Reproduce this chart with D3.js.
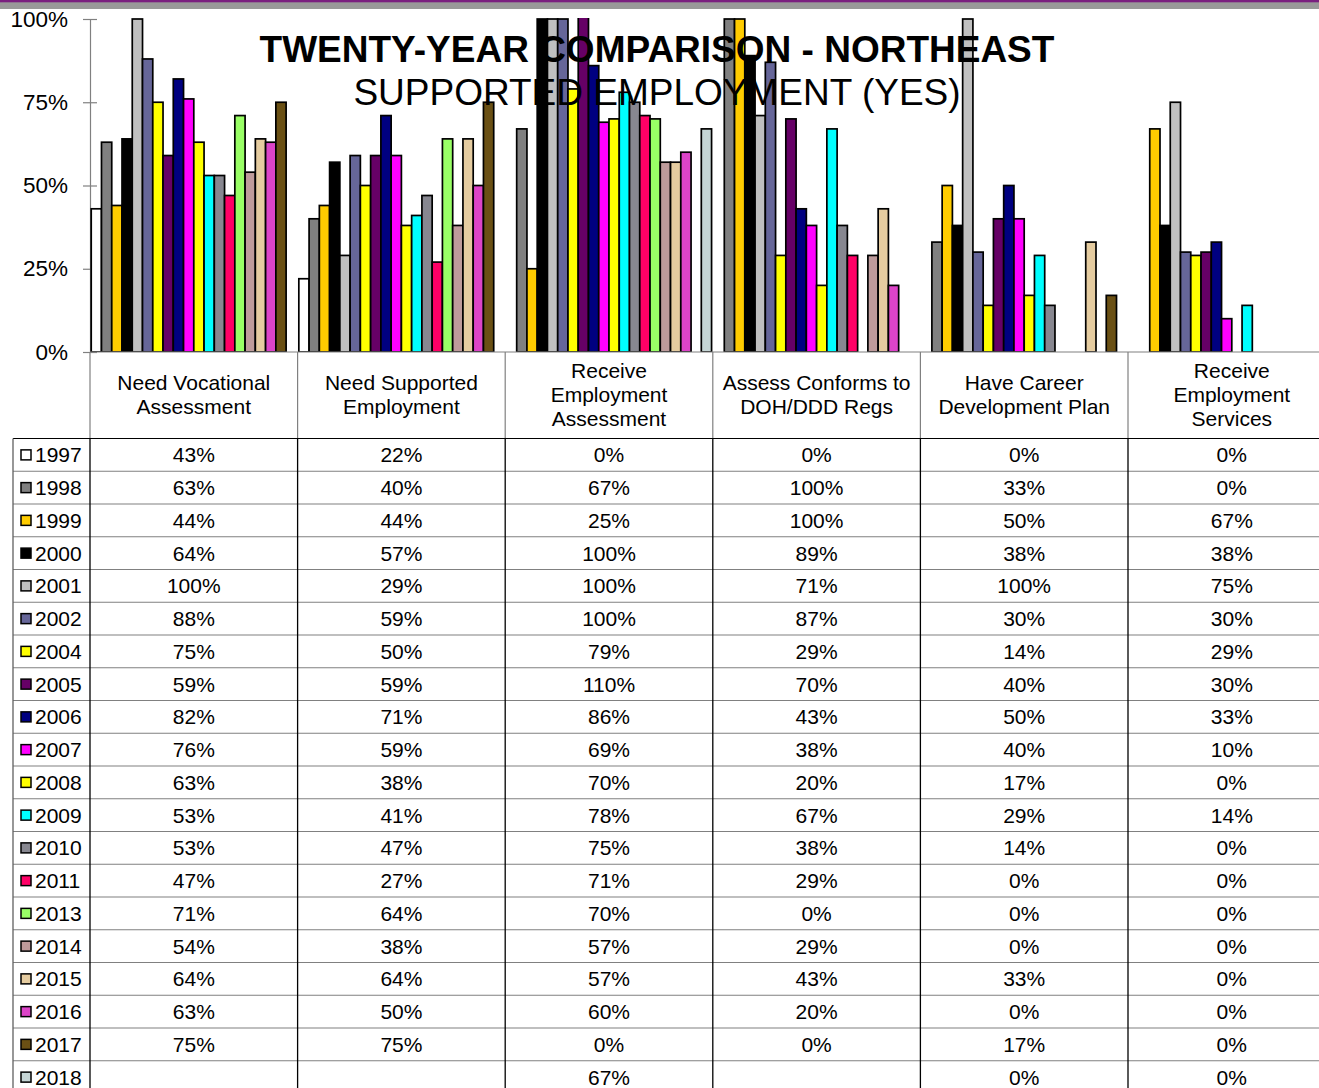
<!DOCTYPE html>
<html>
<head>
<meta charset="utf-8">
<script src="https://cdn.jsdelivr.net/npm/d3@7"></script>
<style>
  html, body { margin: 0; padding: 0; background: #fff; }
  svg { display: block; font-family: "Liberation Sans", Arial, sans-serif; }
</style>
</head>
<body>
<svg id="chart" width="1319" height="1088"></svg>
<script>
// ---------- data ----------
const titleText = "TWENTY-YEAR COMPARISON - NORTHEAST";
const subtitleText = "SUPPORTED EMPLOYMENT (YES)";
const years = ["1997","1998","1999","2000","2001","2002","2004","2005","2006","2007",
               "2008","2009","2010","2011","2013","2014","2015","2016","2017","2018"];
const categories = [
  ["Need Vocational", "Assessment"],
  ["Need Supported", "Employment"],
  ["Receive", "Employment", "Assessment"],
  ["Assess Conforms to", "DOH/DDD Regs"],
  ["Have Career", "Development Plan"],
  ["Receive", "Employment", "Services"]
];
const yTicks = [0, 25, 50, 75, 100];
const yTickLabels = ["0%", "25%", "50%", "75%", "100%"];
// values (%) per category, one per year; null = blank cell
const needVocationalAssessment = [43,63,44,64,100,88,75,59,82,76,63,53,53,47,71,54,64,63,75,null];
const needSupportedEmployment  = [22,40,44,57,29,59,50,59,71,59,38,41,47,27,64,38,64,50,75,null];
const receiveEmploymentAssess  = [0,67,25,100,100,100,79,110,86,69,70,78,75,71,70,57,57,60,0,67];
const assessConformsRegs       = [0,100,100,89,71,87,29,70,43,38,20,67,38,29,0,29,43,20,0,null];
const haveCareerPlan           = [0,33,50,38,100,30,14,40,50,40,17,29,14,0,0,0,33,0,17,0];
const receiveEmploymentServ    = [0,0,67,38,75,30,29,30,33,10,0,14,0,0,0,0,0,0,0,0];
const seriesColors = ["#FFFFFF","#808080","#FFCC00","#000000","#C0C0C0","#666699","#FFFF00",
  "#660066","#000080","#FF00FF","#FFFF00","#00FFFF","#878790","#FF0066","#99FF66",
  "#BE9B9B","#E5CCA0","#DC44C8","#6A5014","#C5D5D5"];

const valuesByCategory = [needVocationalAssessment, needSupportedEmployment, receiveEmploymentAssess,
  assessConformsRegs, haveCareerPlan, receiveEmploymentServ];
const catKeys = categories.map((c, i) => "c" + i);

// ---------- layout ----------
const svg = d3.select("#chart");
const W = 1319, H = 1088;
const plotLeft = 90, plotTop = 19, plotBottom = 352;
const catW = 207.6;
const tableTop = 438.5, rowH = 32.75, tableLeft = 13;
const font = 21;

// top banner
svg.append("rect").attr("x", 0).attr("y", 0).attr("width", W).attr("height", 9).attr("fill", "#999999");
svg.append("rect").attr("x", 0).attr("y", 0).attr("width", W).attr("height", 2.3).attr("fill", "#7a1f7f");

const x0 = d3.scaleBand().domain(catKeys).range([plotLeft, plotLeft + catW * catKeys.length]).padding(0);
const x1 = d3.scaleBand().domain(years).range([0, catW]).paddingInner(0).paddingOuter(0.12);
const y = d3.scaleLinear().domain([0, 100]).range([plotBottom, plotTop]);

// clip for bars
svg.append("defs").append("clipPath").attr("id", "plotClip")
  .append("rect").attr("x", plotLeft).attr("y", plotTop - 1).attr("width", W - plotLeft).attr("height", plotBottom - plotTop + 1);

// y axis
const yAxisG = svg.append("g").attr("transform", `translate(${plotLeft},0)`)
  .call(d3.axisLeft(y).tickValues(yTicks).tickFormat((d, i) => yTickLabels[i]).tickSize(7).tickPadding(15));
yAxisG.select(".domain").attr("stroke", "#808080").attr("stroke-width", 1.2);
yAxisG.selectAll(".tick line").attr("stroke", "#808080").attr("stroke-width", 1.2).attr("x2", -7).attr("x1", 7);
yAxisG.selectAll(".tick text").attr("font-size", 22.5).attr("fill", "#000").attr("font-family", "Liberation Sans, Arial, sans-serif");

// bars
const barG = svg.append("g").attr("clip-path", "url(#plotClip)");
catKeys.forEach((ck, ci) => {
  const vals = valuesByCategory[ci];
  barG.append("g").attr("transform", `translate(${x0(ck)},0)`)
    .selectAll("rect")
    .data(years.map((yr, yi) => ({ yr, yi, v: vals[yi] })).filter(d => d.v !== null && d.v > 0))
    .join("rect")
    .attr("x", d => x1(d.yr))
    .attr("width", x1.bandwidth())
    .attr("y", d => y(d.v))
    .attr("height", d => y(0) - y(d.v))
    .attr("fill", d => seriesColors[d.yi])
    .attr("stroke", "#000")
    .attr("stroke-width", 1.7);
});

// x axis line
svg.append("line").attr("x1", plotLeft).attr("x2", W).attr("y1", plotBottom).attr("y2", plotBottom)
  .attr("stroke", "#808080").attr("stroke-width", 1.2);

// header vertical lines (gray)
const boundaries = catKeys.map(k => x0(k)).concat([x0(catKeys[catKeys.length - 1]) + catW]);
boundaries.forEach(bx => {
  svg.append("line").attr("x1", bx).attr("x2", bx).attr("y1", plotBottom).attr("y2", tableTop)
    .attr("stroke", "#808080").attr("stroke-width", 1.2);
});

// category labels
catKeys.forEach((ck, ci) => {
  const lines = categories[ci];
  const cx = x0(ck) + catW / 2;
  const lh = 24;
  const t = svg.append("text").attr("text-anchor", "middle").attr("font-size", font).attr("fill", "#000");
  lines.forEach((ln, li) => {
    t.append("tspan").attr("x", cx).attr("y", (lines.length === 3 ? 378 : 390) + li * lh).text(ln);
  });
});

// table grid
const nRows = years.length;
for (let r = 0; r <= nRows; r++) {
  const ry = tableTop + r * rowH;
  svg.append("line").attr("x1", tableLeft).attr("x2", W).attr("y1", ry).attr("y2", ry)
    .attr("stroke", r === 0 ? "#000" : "#808080").attr("stroke-width", 1.2);
}
[tableLeft].concat(boundaries).forEach((bx, i) => {
  svg.append("line").attr("x1", bx).attr("x2", bx).attr("y1", tableTop).attr("y2", H)
    .attr("stroke", i === 0 ? "#606060" : "#000").attr("stroke-width", 1.3);
});

// legend rows + values
years.forEach((yr, r) => {
  const cy = tableTop + r * rowH + rowH / 2;
  svg.append("rect").attr("x", 21).attr("y", cy - 5).attr("width", 10).attr("height", 10)
    .attr("fill", seriesColors[r]).attr("stroke", "#000").attr("stroke-width", 1.5);
  svg.append("text").attr("x", 35).attr("y", cy + 7.5).attr("font-size", font).attr("fill", "#000").text(yr);
  catKeys.forEach((ck, ci) => {
    const v = valuesByCategory[ci][r];
    svg.append("text").attr("x", x0(ck) + catW / 2).attr("y", cy + 7.5)
      .attr("text-anchor", "middle").attr("font-size", font).attr("fill", "#000")
      .text(v === null ? "" : v + "%");
  });
});

// titles (drawn on top)
svg.append("text").attr("x", 657).attr("y", 62).attr("text-anchor", "middle")
  .attr("font-size", 37).attr("font-weight", "bold").attr("fill", "#000").text(titleText);
svg.append("text").attr("x", 657).attr("y", 105).attr("text-anchor", "middle")
  .attr("font-size", 37).attr("fill", "#000").text(subtitleText);
</script>
</body>
</html>
